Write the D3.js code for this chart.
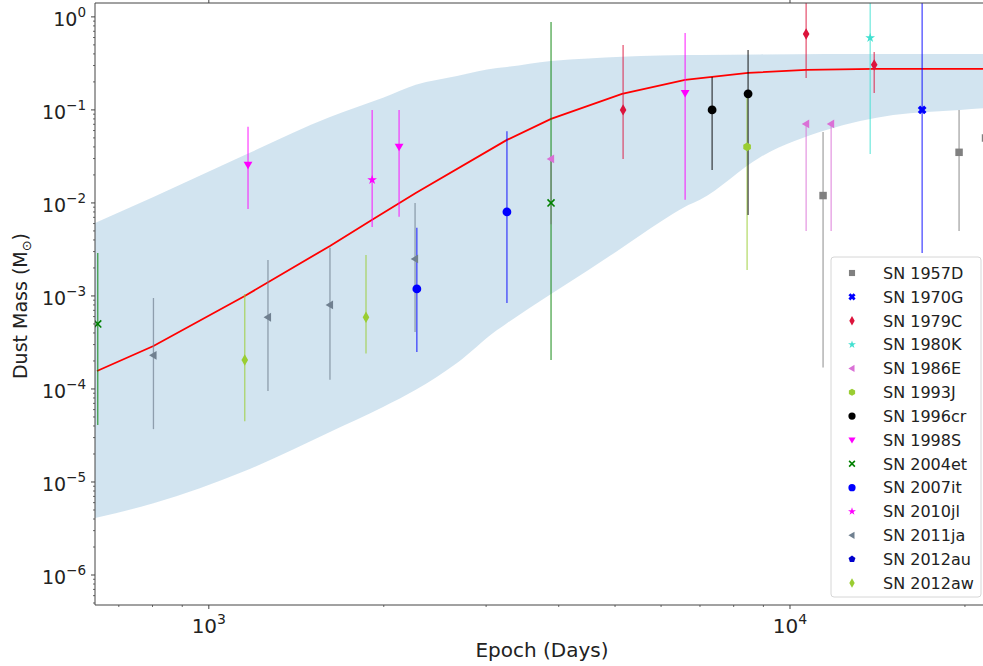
<!DOCTYPE html>
<html><head><meta charset="utf-8">
<script src="https://cdn.jsdelivr.net/npm/d3@7"></script>
<style>body{margin:0;background:#fff;}svg{display:block;font-family:"DejaVu Sans",sans-serif;}</style>
</head><body><svg id="c" width="983" height="666"></svg>
<script>
// ---------- data ----------
const snNames = ["SN 1957D","SN 1970G","SN 1979C","SN 1980K","SN 1986E","SN 1993J","SN 1996cr","SN 1998S","SN 2004et","SN 2007it","SN 2010jl","SN 2011ja","SN 2012au","SN 2012aw"];
// [epoch (days), dust mass, lower, upper]
const sn1957D = [[11400,0.012,1.7e-4,0.058],[19540,0.035,5e-3,0.1],[21700,0.05,5e-3,0.1]];
const sn1970G = [[16880,0.1,2.9e-3,5]];
const sn1979C = [[5162,0.1,0.0297,0.5],[10660,0.656,0.22,5],[13960,0.305,0.152,0.42]];
const sn1980K = [[13740,0.594,0.0336,5]];
const sn1986E = [[3880,0.0297,5.9e-3,0.0297],[10660,0.0707,5e-3,0.0707],[11770,0.0707,5e-3,0.0707]];
const sn1993J = [[8437,0.04,1.9e-3,0.145]];
const sn1996cr = [[7345,0.1,0.0226,0.226],[8470,0.149,7.4e-3,0.44]];
const sn1998S = [[1168,0.0256,8.6e-3,0.066],[2125,0.04,7.1e-3,0.1],[6600,0.152,0.0108,0.67]];
const sn2004et = [[644,5.0e-4,4.1e-5,2.9e-3],[3880,0.01,2.05e-4,0.88]];
const sn2007it = [[2280,1.19e-3,2.5e-4,5.4e-3],[3258,8.0e-3,8.4e-4,0.059]];
const sn2010jl = [[1910,0.0177,5.5e-3,0.1]];
const sn2011ja = [[803,2.3e-4,3.7e-5,9.5e-4],[1264,5.9e-4,9.5e-5,2.44e-3],[1616,8.0e-4,1.26e-4,3.3e-3],[2264,2.5e-3,4.1e-4,0.01]];
const sn2012au = [];
const sn2012aw = [[1153,2.05e-4,4.5e-5,1.05e-3],[1864,5.9e-4,2.4e-4,2.76e-3]];
const snData = [sn1957D,sn1970G,sn1979C,sn1980K,sn1986E,sn1993J,sn1996cr,sn1998S,sn2004et,sn2007it,sn2010jl,sn2011ja,sn2012au,sn2012aw];

const modelEpochs = [642,803,1153,1616,1910,2270,3258,3880,5140,6600,7345,8470,10660,13960,16880,22000];
const modelMass   = [1.56e-4,2.9e-4,1.0e-3,3.45e-3,6.6e-3,0.0128,0.0476,0.08,0.149,0.21,0.226,0.25,0.269,0.276,0.276,0.276];

const bandEpochs = [637,803,1153,1616,1994,2270,2673,3133,3258,3880,4500,5140,5977,6600,7000,8885,11580,15050,19630,22000];
const bandUpper  = [6.1e-3,0.0116,0.0327,0.084,0.135,0.186,0.232,0.283,0.29,0.336,0.358,0.372,0.385,0.39,0.39,0.395,0.40,0.40,0.40,0.40];
const bandLower  = [4.1e-6,5.9e-6,1.31e-5,3.45e-5,6.4e-5,9.8e-5,1.9e-4,4.3e-4,5.1e-4,1.05e-3,1.9e-3,3.3e-3,6.25e-3,9.1e-3,0.0108,0.031,0.061,0.088,0.1,0.105];

const xTickValues = [1e3,1e4];
const xTickExp = ["3","4"];
const yTickValues = [1e-6,1e-5,1e-4,1e-3,1e-2,1e-1,1];
const yTickExp = ["\u22126","\u22125","\u22124","\u22123","\u22122","\u22121","0"];

// ---------- styles ----------
const snColors = ["#808080","#0000ff","#dc143c","#40e0d0","#da70d6","#9acd32","#000000","#ff00ff","#008000","#0000ff","#ff00ff","#708090","#0000cd","#9acd32"];
const snShapes = ["square","Xfill","thindiamond","star","tleft","hexagon","circle","tdown","x","circle","star","tleft","pentagon","thindiamond"];

// ---------- layout ----------
const L=95, R=989, T=3, B=605;
const svg = d3.select("#c");
const x = d3.scaleLog().domain([637,22000]).range([L,R]);
const y = d3.scaleLog().domain([4.76e-7,1.41]).range([B,T]);

svg.append("defs").append("clipPath").attr("id","clip")
  .append("rect").attr("x",L).attr("y",T).attr("width",R-L+20).attr("height",B-T);
const plot = svg.append("g").attr("clip-path","url(#clip)");

// band
const bandPts = bandEpochs.map((e,i)=>({e, lo:bandLower[i], hi:bandUpper[i]}));
plot.append("path").datum(bandPts)
  .attr("d", d3.area().x(d=>x(d.e)).y0(d=>y(d.lo)).y1(d=>y(d.hi)).curve(d3.curveMonotoneX))
  .attr("fill","#1f77b4").attr("fill-opacity",0.2);

// model line
const modelPts = modelEpochs.map((e,i)=>({e, m:modelMass[i]}));
plot.append("path").datum(modelPts)
  .attr("d", d3.line().x(d=>x(d.e)).y(d=>y(d.m)))
  .attr("fill","none").attr("stroke","#ff0000").attr("stroke-width",1.8);

// marker shapes
function markerPath(shape, r){
  const p = d3.path();
  if(shape==="square"){ p.rect(-r*0.85,-r*0.85,r*1.7,r*1.7); }
  else if(shape==="circle"){ p.arc(0,0,r,0,2*Math.PI); }
  else if(shape==="thindiamond"){ p.moveTo(0,-r*1.3); p.lineTo(r*0.75,0); p.lineTo(0,r*1.3); p.lineTo(-r*0.75,0); p.closePath(); }
  else if(shape==="tleft"){ p.moveTo(-r,0); p.lineTo(r*0.7,-r); p.lineTo(r*0.7,r); p.closePath(); }
  else if(shape==="tdown"){ p.moveTo(0,r); p.lineTo(-r,-r*0.7); p.lineTo(r,-r*0.7); p.closePath(); }
  else if(shape==="hexagon"){ for(let k=0;k<6;k++){const a=Math.PI/6+k*Math.PI/3; const px=r*Math.cos(a), py=r*Math.sin(a); k?p.lineTo(px,py):p.moveTo(px,py);} p.closePath(); }
  else if(shape==="pentagon"){ for(let k=0;k<5;k++){const a=-Math.PI/2+k*2*Math.PI/5; const px=r*Math.cos(a), py=r*Math.sin(a); k?p.lineTo(px,py):p.moveTo(px,py);} p.closePath(); }
  else if(shape==="star"){ return d3.symbol(d3.symbolStar, r*r*1.5)(); }
  else if(shape==="Xfill"){
    const w=r*0.55, l=r;
    const pts=[[w,0],[l,l-w],[l-w,l],[0,w],[-l+w,l],[-l,l-w],[-w,0],[-l,-l+w],[-l+w,-l],[0,-w],[l-w,-l],[l,-l+w]];
    pts.forEach((q,k)=>k?p.lineTo(q[0],q[1]):p.moveTo(q[0],q[1])); p.closePath();
  }
  else if(shape==="x"){ p.moveTo(-r*0.8,-r*0.8); p.lineTo(r*0.8,r*0.8); p.moveTo(-r*0.8,r*0.8); p.lineTo(r*0.8,-r*0.8); }
  return p.toString();
}
function drawMarker(g, shape, color, r){
  const path = g.append("path").attr("d", markerPath(shape, r));
  if(shape==="x") path.attr("fill","none").attr("stroke",color).attr("stroke-width",1.6);
  else path.attr("fill",color);
  return path;
}

// error bars
snData.forEach((arr,i)=>{
  arr.forEach(d=>{
    plot.append("line").attr("x1",x(d[0])).attr("x2",x(d[0]))
      .attr("y1",y(d[2])).attr("y2",y(d[3]))
      .attr("stroke",snColors[i]).attr("stroke-width",1.3).attr("stroke-opacity",0.7);
  });
});
// markers
snData.forEach((arr,i)=>{
  arr.forEach(d=>{
    const g = plot.append("g").attr("transform",`translate(${x(d[0])},${y(d[1])})`);
    drawMarker(g, snShapes[i], snColors[i], 4.4);
  });
});

// ---------- axes ----------
const axisColor = "#444";
svg.append("line").attr("x1",L).attr("x2",L).attr("y1",T).attr("y2",B).attr("stroke",axisColor).attr("stroke-width",1);
svg.append("line").attr("x1",L).attr("x2",R).attr("y1",B).attr("y2",B).attr("stroke",axisColor).attr("stroke-width",1);
svg.append("line").attr("x1",L).attr("x2",R).attr("y1",T).attr("y2",T).attr("stroke",axisColor).attr("stroke-width",1);
// ticks from subplot above
xTickValues.forEach(v=>{
  svg.append("line").attr("x1",x(v)).attr("x2",x(v)).attr("y1",0).attr("y2",T).attr("stroke",axisColor).attr("stroke-width",1);
});

// y ticks
const yMinor = [];
for(let e=-7;e<=0;e++) for(let k=2;k<=9;k++){ const v=k*Math.pow(10,e); if(v>=4.76e-7 && v<=1.41) yMinor.push(v); }
svg.selectAll(".ymin").data(yMinor).enter().append("line")
  .attr("x1",L-2).attr("x2",L).attr("y1",d=>y(d)).attr("y2",d=>y(d)).attr("stroke",axisColor).attr("stroke-width",0.8);
yTickValues.forEach((v,i)=>{
  svg.append("line").attr("x1",L-4).attr("x2",L).attr("y1",y(v)).attr("y2",y(v)).attr("stroke",axisColor).attr("stroke-width",1);
  const t = svg.append("text").attr("x",L-9).attr("y",y(v)+9).attr("text-anchor","end")
    .attr("font-size",19).attr("fill","#222");
  t.append("tspan").text("10");
  t.append("tspan").attr("dy",-9).attr("font-size",13.5).text(yTickExp[i]);
});
// x ticks
const xMinor = [];
for(let e=2;e<=4;e++) for(let k=2;k<=9;k++){ const v=k*Math.pow(10,e); if(v>=637 && v<=22000) xMinor.push(v); }
svg.selectAll(".xmin").data(xMinor).enter().append("line")
  .attr("x1",d=>x(d)).attr("x2",d=>x(d)).attr("y1",B).attr("y2",B+2).attr("stroke",axisColor).attr("stroke-width",0.8);
xTickValues.forEach((v,i)=>{
  svg.append("line").attr("x1",x(v)).attr("x2",x(v)).attr("y1",B).attr("y2",B+4).attr("stroke",axisColor).attr("stroke-width",1);
  const t = svg.append("text").attr("x",x(v)).attr("y",633).attr("text-anchor","middle")
    .attr("font-size",20).attr("fill","#222");
  t.append("tspan").text("10");
  t.append("tspan").attr("dy",-9).attr("font-size",14).text(xTickExp[i]);
});

// axis labels
svg.append("text").attr("x",542).attr("y",657).attr("text-anchor","middle").attr("font-size",20).attr("fill","#222").text("Epoch (Days)");
const yl = svg.append("text").attr("transform","translate(27,306) rotate(-90)").attr("text-anchor","middle").attr("font-size",19).attr("fill","#222");
yl.append("tspan").text("Dust Mass (M");
yl.append("tspan").attr("dy",4).attr("font-size",13).text("\u2299");
yl.append("tspan").attr("dy",-4).text(")");

// ---------- legend ----------
const lg = svg.append("g");
lg.append("rect").attr("x",831).attr("y",257).attr("width",150).attr("height",340).attr("rx",3)
  .attr("fill","#fff").attr("fill-opacity",0.85).attr("stroke","#d6d6d6").attr("stroke-width",1);
snNames.forEach((n,i)=>{
  const cy = 273 + i*23.85;
  const g = lg.append("g").attr("transform",`translate(852,${cy})`);
  drawMarker(g, snShapes[i], snColors[i], 3.6);
  lg.append("text").attr("x",883).attr("y",cy+5.8).attr("font-size",16).attr("fill","#222").text(n);
});
</script></body></html>
